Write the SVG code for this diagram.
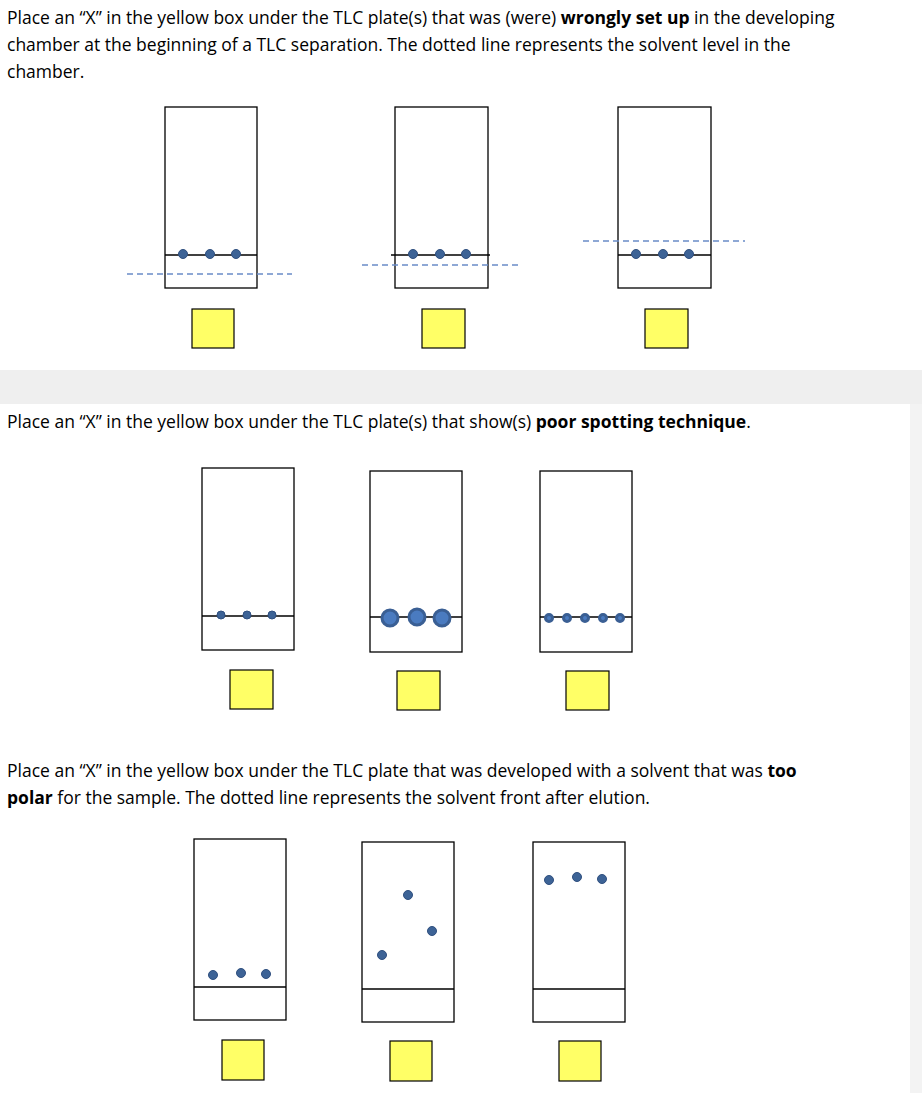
<svg xmlns="http://www.w3.org/2000/svg" width="922" height="1093" viewBox="0 0 922 1093">
<style>
text{font-family:"Open Sans","Liberation Sans",sans-serif;font-size:17.5px;fill:#000}
.p{fill:#fff;stroke:#000;stroke-width:1.3}
.l{stroke:#000;stroke-width:1.3}
.d{stroke:#6a8cc7;stroke-width:1.3;stroke-dasharray:6,4}
.y{fill:#ffff66;stroke:#000;stroke-width:1.2}
.s{fill:#3d6396;stroke:#2f4f7f;stroke-width:1}
.b{fill:#4a7bc0;stroke:#3a5f94;stroke-width:3}
</style>
<rect width="922" height="1093" fill="#fff"/>
<rect x="0" y="370" width="922" height="34" fill="#efefef"/>
<rect x="910" y="404" width="12" height="689" fill="#f3f3f3"/>
<text x="7" y="24">Place an “X” in the yellow box under the TLC plate(s) that was (were) <tspan font-weight="bold">wrongly set up</tspan> in the developing</text>
<text x="7" y="51">chamber at the beginning of a TLC separation. The dotted line represents the solvent level in the</text>
<text x="7" y="78">chamber.</text>
<g id="s1p1"><rect class="p" x="165" y="107" width="92" height="181"/><line class="l" x1="165" y1="255" x2="257" y2="255"/><circle class="s" cx="183" cy="254" r="4.5"/><circle class="s" cx="210" cy="254" r="4.5"/><circle class="s" cx="236" cy="254" r="4.5"/><rect class="y" x="192" y="309" width="42" height="39"/></g>
<g id="s1p2"><rect class="p" x="395" y="107" width="93" height="181"/><line class="l" x1="391" y1="255" x2="490" y2="255"/><circle class="s" cx="413" cy="254" r="4.5"/><circle class="s" cx="440" cy="254" r="4.5"/><circle class="s" cx="466" cy="254" r="4.5"/><rect class="y" x="422" y="309" width="43" height="39"/></g>
<g id="s1p3"><rect class="p" x="618" y="107" width="93" height="181"/><line class="l" x1="618" y1="255" x2="711" y2="255"/><circle class="s" cx="636" cy="254" r="4.5"/><circle class="s" cx="663" cy="254" r="4.5"/><circle class="s" cx="689" cy="254" r="4.5"/><rect class="y" x="645" y="309" width="43" height="39"/></g>
<g id="connectors">
<line class="d" x1="127" y1="274" x2="292" y2="274"/>
<line class="d" x1="362" y1="265" x2="520" y2="265"/>
<line class="d" x1="583" y1="241" x2="745" y2="241"/>
<line class="d" x1="194" y1="867" x2="286" y2="867"/>
<line class="d" x1="362" y1="867" x2="454" y2="867"/>
<line class="d" x1="533" y1="867" x2="625" y2="867"/>
</g>
<text x="7" y="428">Place an “X” in the yellow box under the TLC plate(s) that show(s) <tspan font-weight="bold">poor spotting technique</tspan>.</text>
<g id="s2p1"><rect class="p" x="202" y="468" width="92" height="182"/><line class="l" x1="202" y1="616" x2="294" y2="616"/><circle class="s" cx="221" cy="615" r="4"/><circle class="s" cx="247" cy="615" r="4"/><circle class="s" cx="272" cy="615" r="4"/><rect class="y" x="230" y="670" width="43" height="39"/></g>
<g id="s2p2"><rect class="p" x="370" y="471" width="92" height="181"/><line class="l" x1="370" y1="617" x2="462" y2="617"/><circle class="b" cx="390" cy="618" r="8"/><circle class="b" cx="417" cy="617" r="8"/><circle class="b" cx="442" cy="618" r="8"/><rect class="y" x="397" y="671" width="43" height="39"/></g>
<g id="s2p3"><rect class="p" x="540" y="471" width="92" height="181"/><line class="l" x1="540" y1="617" x2="632" y2="617"/><circle class="b" cx="549" cy="618" r="3.5"/><circle class="b" cx="567" cy="618" r="3.5"/><circle class="b" cx="585" cy="618" r="3.5"/><circle class="b" cx="603" cy="618" r="3.5"/><circle class="b" cx="620" cy="618" r="3.5"/><rect class="y" x="566" y="671" width="43" height="39"/></g>
<text x="7" y="777">Place an “X” in the yellow box under the TLC plate that was developed with a solvent that was <tspan font-weight="bold">too</tspan></text>
<text x="7" y="804"><tspan font-weight="bold">polar</tspan> for the sample. The dotted line represents the solvent front after elution.</text>
<g id="s3p1"><rect class="p" x="194" y="839" width="92" height="181"/><line class="l" x1="194" y1="987" x2="286" y2="987"/><circle class="s" cx="213" cy="975" r="4.5"/><circle class="s" cx="241" cy="973" r="4.5"/><circle class="s" cx="266" cy="974" r="4.5"/><rect class="y" x="222" y="1040" width="42" height="40"/></g>
<g id="s3p2"><rect class="p" x="362" y="842" width="92" height="180"/><line class="l" x1="362" y1="989" x2="454" y2="989"/><circle class="s" cx="408" cy="895" r="4.5"/><circle class="s" cx="432" cy="931" r="4.5"/><circle class="s" cx="382" cy="955" r="4.5"/><rect class="y" x="390" y="1041" width="42" height="40"/></g>
<g id="s3p3"><rect class="p" x="533" y="842" width="92" height="180"/><line class="l" x1="533" y1="989" x2="625" y2="989"/><circle class="s" cx="549" cy="880" r="4.5"/><circle class="s" cx="577" cy="877" r="4.5"/><circle class="s" cx="602" cy="879" r="4.5"/><rect class="y" x="559" y="1041" width="42" height="40"/></g>
</svg>
